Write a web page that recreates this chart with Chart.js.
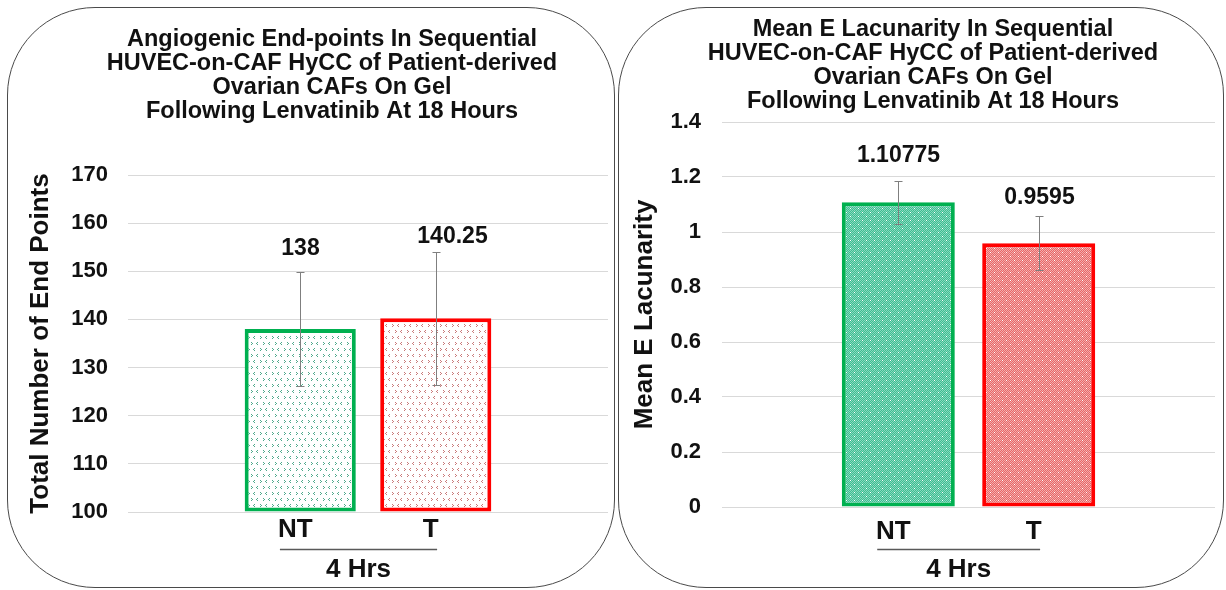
<!DOCTYPE html>
<html>
<head>
<meta charset="utf-8">
<script src="https://cdn.jsdelivr.net/npm/chart.js@4.4.1/dist/chart.umd.min.js"></script>
<style>
  html, body { margin: 0; padding: 0; background: #fff; }
  body { width: 1226px; height: 590px; position: relative; overflow: hidden; }
  .panel { position: absolute; top: 7px; height: 581px; border: 1.5px solid #4a4a4a;
           border-radius: 88px; box-sizing: border-box; background: #fff; }
  #panelA { left: 7px; width: 608px; }
  #panelB { left: 618px; width: 606px; }
  canvas { position: absolute; top: 0; }
  #endPointsChart { left: 0; }
  #lacunarityChart { left: 618px; }
</style>
</head>
<body>
<div class="panel" id="panelA"></div>
<div class="panel" id="panelB"></div>
<canvas id="endPointsChart" width="613" height="590"></canvas>
<canvas id="lacunarityChart" width="606" height="590"></canvas>
<script>
// ---- data ----
const categories = ['NT', 'T'];
const groupLabel = '4 Hrs';

const endPointTitle = [
  'Angiogenic End-points In Sequential',
  'HUVEC-on-CAF HyCC of Patient-derived',
  'Ovarian CAFs On Gel',
  'Following Lenvatinib At 18 Hours'
];
const endPointAxisTitle = 'Total Number of End Points';
const endPointMeans = [138, 140.25];
const endPointErrors = [11.8, 13.8];
const endPointTicks = [100, 110, 120, 130, 140, 150, 160, 170];

const lacunarityTitle = [
  'Mean E Lacunarity In Sequential',
  'HUVEC-on-CAF HyCC of Patient-derived',
  'Ovarian CAFs On Gel',
  'Following Lenvatinib At 18 Hours'
];
const lacunarityAxisTitle = 'Mean E Lacunarity';
const lacunarityMeans = [1.10775, 0.9595];
const lacunarityErrors = [0.079, 0.097];
const lacunarityTicks = [0, 0.2, 0.4, 0.6, 0.8, 1, 1.2, 1.4];

// ---- look ----
const FONT = '"Liberation Sans", Arial, sans-serif';
Chart.defaults.font.family = FONT;
Chart.defaults.color = '#111';

const GREEN = '#00b050';
const RED = '#ff0000';

// small tiled fills for the bars
function tile(size, paint) {
  const c = document.createElement('canvas');
  c.width = size; c.height = size;
  const g = c.getContext('2d');
  paint(g, size);
  return g.createPattern(c, 'repeat');
}
function px(g, color, pts) {
  g.fillStyle = color;
  pts.forEach(([a, b]) => g.fillRect(a, b, 1, 1));
}
// light chevron pattern on white
function chevronFill(mark) {
  return tile(12, (g, s) => {
    g.fillStyle = '#fff'; g.fillRect(0, 0, s, s);
    px(g, mark, [[2, 0], [1, 1], [2, 2], [8, 0], [9, 1], [8, 2],
                 [5, 6], [4, 7], [5, 8], [11, 6], [0, 7], [11, 8]]);
  });
}
// dense checker with white dots
function dottedFill(c1, c2) {
  return tile(8, (g, s) => {
    for (let y = 0; y < s; y++)
      for (let x = 0; x < s; x++) {
        g.fillStyle = (x + y) % 2 ? c1 : c2;
        g.fillRect(x, y, 1, 1);
      }
    px(g, '#ffffff', [[0, 0], [4, 4]]);
  });
}

// error bars, value labels and the grouped category caption
const barExtras = {
  id: 'barExtras',
  afterDatasetsDraw(chart, args, o) {
    const { ctx } = chart;
    const x = chart.scales.x, y = chart.scales.y;
    ctx.save();
    o.means.forEach((m, i) => {
      const cx = Math.round(x.getPixelForValue(i + 1)) + 0.5;
      const top = Math.round(y.getPixelForValue(m + o.errors[i])) + 0.5;
      const bot = Math.round(y.getPixelForValue(m - o.errors[i])) + 0.5;
      ctx.strokeStyle = '#7f7f7f';
      ctx.lineWidth = 1;
      ctx.beginPath();
      ctx.moveTo(cx, top); ctx.lineTo(cx, bot);
      ctx.moveTo(cx - 4, top); ctx.lineTo(cx + 4, top);
      ctx.moveTo(cx - 4, bot); ctx.lineTo(cx + 4, bot);
      ctx.stroke();
      ctx.fillStyle = '#111';
      ctx.font = 'bold 23px ' + FONT;
      ctx.textAlign = 'center';
      ctx.textBaseline = 'middle';
      ctx.fillText(String(m), cx + o.labelNudge[i], top - o.labelGap[i]);
    });
    const p1 = x.getPixelForValue(1), p2 = x.getPixelForValue(2), u = p2 - p1;
    const a = p1 - 0.15 * u, b = p2 + 0.01 * u;
    const ly = chart.height - 40.5;
    ctx.strokeStyle = '#595959';
    ctx.lineWidth = 1.5;
    ctx.beginPath(); ctx.moveTo(a, ly); ctx.lineTo(b, ly); ctx.stroke();
    ctx.fillStyle = '#111';
    ctx.font = 'bold 26px ' + FONT;
    ctx.textAlign = 'center';
    ctx.textBaseline = 'middle';
    ctx.fillText(o.group, (a + b) / 2, chart.height - 20);
    ctx.restore();
  }
};

function buildChart(id, cfg) {
  return new Chart(document.getElementById(id), {
    type: 'bar',
    data: {
      datasets: [{
        data: cfg.means.map((v, i) => ({ x: i + 1, y: v })),
        base: cfg.ticks[0],
        backgroundColor: cfg.fills,
        borderColor: [GREEN, RED],
        borderWidth: 4,
        borderSkipped: false,
        clip: 4,
        categoryPercentage: 1,
        barPercentage: cfg.barPct
      }]
    },
    plugins: [barExtras],
    options: {
      responsive: false,
      animation: false,
      events: [],
      layout: { padding: cfg.padding },
      plugins: {
        legend: { display: false },
        tooltip: { enabled: false },
        title: {
          display: true,
          text: cfg.title,
          color: '#111',
          font: { size: 23.5, weight: 'bold', lineHeight: '24px' },
          padding: cfg.titlePad
        },
        barExtras: {
          means: cfg.means, errors: cfg.errors,
          labelGap: cfg.labelGap, labelNudge: cfg.labelNudge, group: groupLabel
        }
      },
      scales: {
        x: {
          type: 'linear',
          offset: false,
          min: 1.5 - cfg.halfSpan,
          max: 1.5 + cfg.halfSpan,
          afterFit(s) { s.height = 70; },
          afterBuildTicks(s) { s.ticks = categories.map((c, i) => ({ value: i + 1 })); },
          ticks: {
            callback: (v, i) => categories[i],
            autoSkip: false, maxRotation: 0,
            padding: cfg.xTickPad, labelOffset: -5,
            color: '#111',
            font: { size: 26, weight: 'bold' }
          },
          grid: { display: false },
          border: { display: false }
        },
        y: {
          beginAtZero: false,
          min: cfg.ticks[0],
          max: cfg.ticks[cfg.ticks.length - 1],
          afterFit(s) { s.width = cfg.yAxisWidth; },
          afterBuildTicks(s) { s.ticks = cfg.ticks.map(v => ({ value: v })); },
          ticks: {
            callback: v => String(v),
            padding: cfg.yTickPad,
            color: '#111',
            font: { size: 22, weight: 'bold' }
          },
          grid: { color: '#d9d9d9', lineWidth: 1, drawTicks: false },
          border: { display: false },
          title: {
            display: true,
            text: cfg.axisTitle,
            color: '#111',
            font: { size: 26, weight: 'bold' },
            padding: { top: cfg.yTitleShift, bottom: 0 }
          }
        }
      }
    }
  });
}

buildChart('endPointsChart', {
  title: endPointTitle,
  axisTitle: endPointAxisTitle,
  means: endPointMeans,
  errors: endPointErrors,
  ticks: endPointTicks,
  fills: [chevronFill('#4fa98c'), chevronFill('#c97a7a')],
  barPct: 0.82,
  halfSpan: 1.771,
  padding: { left: 56, right: 5, top: 0, bottom: 8 },
  titlePad: { top: 28, bottom: 51 },
  yAxisWidth: 72,
  yTickPad: 20,
  yTitleShift: -31,
  xTickPad: -6,
  labelGap: [24, 16],
  labelNudge: [0, 16]
});

buildChart('lacunarityChart', {
  title: lacunarityTitle,
  axisTitle: lacunarityAxisTitle,
  means: lacunarityMeans,
  errors: lacunarityErrors,
  ticks: lacunarityTicks,
  fills: [dottedFill('#3fbb91', '#86dcbf'), dottedFill('#e66868', '#f5abab')],
  barPct: 0.805,
  halfSpan: 1.7555,
  padding: { left: 33, right: 9, top: 0, bottom: 13 },
  titlePad: { top: 18, bottom: 8 },
  yAxisWidth: 71,
  yTickPad: 21,
  yTitleShift: -22,
  xTickPad: 1,
  labelGap: [26, 19],
  labelNudge: [0, 0]
});
</script>
</body>
</html>
